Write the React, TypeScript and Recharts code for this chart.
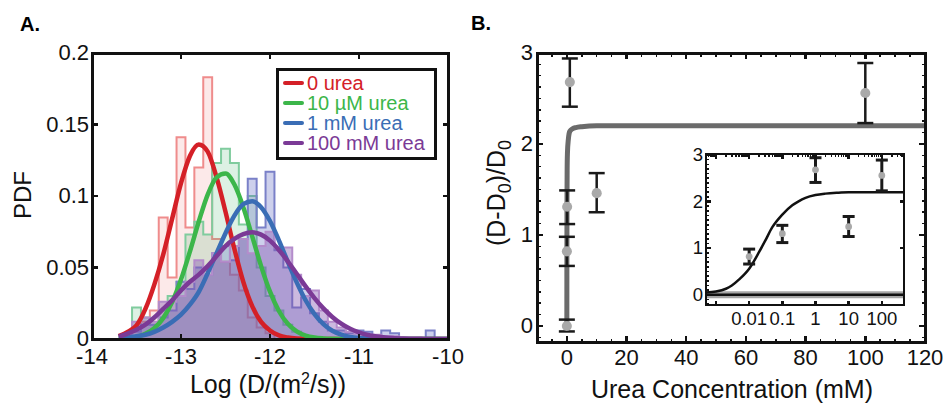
import {
  Area,
  CartesianGrid,
  ComposedChart,
  ErrorBar,
  Legend,
  Line,
  Scatter,
  XAxis,
  YAxis,
  ZAxis,
} from "recharts";

const FONT = '"Liberation Sans", Arial, Helvetica, sans-serif';

// ---------- panel A: log10(D) histograms, bins 0.1 wide ----------
const binStarts = [
  -13.65, -13.55, -13.45, -13.35, -13.25, -13.15, -13.05, -12.95, -12.85, -12.75, -12.65, -12.55,
  -12.45, -12.35, -12.25, -12.15, -12.05, -11.95, -11.85, -11.75, -11.65, -11.55, -11.45, -11.35,
  -11.25, -11.15, -11.05, -10.95, -10.85, -10.75, -10.65, -10.55, -10.45, -10.35, -10.25,
];
const binWidth = 0.1;

const hist0 = [
  0, 0.008, 0.012, 0.02, 0.085, 0.043, 0.141, 0.078, 0.12, 0.183, 0.07, 0.054, 0.045, 0.034, 0.015,
  0.008, 0.004, 0, 0, 0, 0, 0, 0, 0, 0, 0, 0, 0, 0, 0, 0, 0, 0, 0, 0,
];
const hist10uM = [
  0, 0.022, 0.015, 0.01, 0.02, 0.03, 0.04, 0.073, 0.082, 0.073, 0.123, 0.133, 0.123, 0.08, 0.1, 0.05,
  0.03, 0.02, 0.01, 0.005, 0, 0, 0, 0, 0, 0, 0, 0, 0, 0, 0, 0, 0, 0, 0,
];
const hist1mM = [
  0, 0.005, 0.01, 0.01, 0.015, 0.02, 0.04, 0.035, 0.05, 0.045, 0.06, 0.065, 0.055, 0.07, 0.112, 0.078,
  0.117, 0.062, 0.05, 0.022, 0.035, 0.018, 0.012, 0.006, 0.006, 0.004, 0.006, 0.005, 0, 0.006, 0.004,
  0, 0, 0, 0.006,
];
const hist100mM = [
  0.004, 0.012, 0.015, 0.012, 0.026, 0.026, 0.03, 0.04, 0.055, 0.045, 0.06, 0.054, 0.065, 0.07, 0.06,
  0.065, 0.075, 0.064, 0.064, 0.045, 0.03, 0.034, 0.02, 0.012, 0.008, 0.005, 0.004, 0.003, 0.003,
  0.002, 0.002, 0, 0, 0, 0,
];

const fitX = [
  -13.7, -13.6, -13.5, -13.4, -13.3, -13.2, -13.1, -13.0, -12.9, -12.8, -12.7, -12.6, -12.5, -12.4,
  -12.3, -12.2, -12.1, -12.0, -11.9, -11.8, -11.7, -11.6, -11.5, -11.4, -11.3, -11.2, -11.1, -11.0,
  -10.9, -10.8, -10.7, -10.6, -10.5, -10.4, -10.3, -10.2, -10.1, -10.0,
];
const fit0 = [
  0.002, 0.005, 0.0095, 0.021, 0.038, 0.059, 0.084, 0.109, 0.128, 0.136, 0.131, 0.113, 0.089, 0.063,
  0.04, 0.023, 0.012, 0.006, 0.0025, 0.001, 0.0003, 0, 0, 0, 0, 0, 0, 0, 0, 0, 0, 0, 0, 0, 0, 0, 0, 0,
];
const fit10uM = [
  0.0002, 0.0006, 0.0015, 0.0036, 0.0076, 0.0146, 0.0258, 0.0416, 0.0612, 0.0822, 0.101, 0.113,
  0.1157, 0.108, 0.0922, 0.0718, 0.051, 0.0331, 0.0196, 0.0106, 0.0053, 0.0024, 0.001, 0.0004, 0.0001,
  0, 0, 0, 0, 0, 0, 0, 0, 0, 0, 0, 0, 0,
];
const fit1mM = [
  0.0005, 0.001, 0.002, 0.003, 0.005, 0.008, 0.012, 0.017, 0.024, 0.033, 0.046, 0.06, 0.074, 0.0863,
  0.0943, 0.0964, 0.0922, 0.0825, 0.069, 0.054, 0.0396, 0.0271, 0.0174, 0.0104, 0.0058, 0.0031,
  0.0015, 0.0007, 0.0003, 0.0001, 0, 0, 0, 0, 0, 0, 0, 0,
];
const fit100mM = [
  0.0016, 0.0038, 0.0065, 0.01, 0.015, 0.021, 0.027, 0.034, 0.04, 0.045, 0.051, 0.058, 0.065, 0.07,
  0.0733, 0.0746, 0.073, 0.0688, 0.0623, 0.0543, 0.0456, 0.0368, 0.0286, 0.0214, 0.0154, 0.0107,
  0.0071, 0.0046, 0.0028, 0.0017, 0.001, 0.0006, 0.0003, 0.0002, 0.0001, 0, 0, 0,
];

const seriesA = [
  { key: "u0", name: "0 urea", hist: hist0, line: "#d42027", edge: "#ef8c8c", fill: "#e86a6a", op: 0.15 },
  { key: "u10", name: "10 \u00b5M urea", hist: hist10uM, line: "#3cb64a", edge: "#80cc9e", fill: "#55bb7a", op: 0.2 },
  { key: "m1", name: "1 mM urea", hist: hist1mM, line: "#3a6db5", edge: "#7a80c8", fill: "#5a64c0", op: 0.3 },
  { key: "m100", name: "100 mM urea", hist: hist100mM, line: "#7b3a96", edge: "#b48ccb", fill: "#8050b0", op: 0.4 },
];

const ticksAX = [-14, -13, -12, -11, -10];
const ticksAY = [0, 0.05, 0.1, 0.15, 0.2];

// ---------- panel B: (D-D0)/D0 vs urea ----------
const conc = [0, 0.01, 0.1, 1, 10, 100];
const ratio = [0, 0.82, 1.31, 2.68, 1.46, 2.56];
const errLo = [0.06, 0.16, 0.19, 0.27, 0.21, 0.33];
const errHi = [0.07, 0.16, 0.18, 0.26, 0.22, 0.33];

const fitConc = [0, 0.002, 0.005, 0.01, 0.02, 0.05, 0.1, 0.2, 0.5, 1, 2, 3, 5, 10, 20, 50, 120];
const fitRatio = [0, 0.1, 0.25, 0.55, 0.85, 1.4, 1.72, 1.9, 2.05, 2.14, 2.17, 2.18, 2.19, 2.2, 2.2, 2.2, 2.2];

const insetFitConc = [0.0005, 0.001, 0.002, 0.003, 0.005, 0.01, 0.02, 0.03, 0.05, 0.1, 0.2, 0.3, 0.5, 1, 2, 5, 10, 100, 500];
const insetFitRatio = [0.05, 0.07, 0.13, 0.2, 0.33, 0.56, 0.92, 1.15, 1.45, 1.72, 1.92, 2.0, 2.08, 2.14, 2.17, 2.19, 2.2, 2.2, 2.2];
const insetBaseConc = [0.0005, 500];
const insetBaseRatio = [0, 0];

const ticksBX = [0, 20, 40, 60, 80, 100, 120];
const ticksBY = [0, 1, 2, 3];
const insetTicksX = [0.001, 0.01, 0.1, 1, 10, 100];
const insetTicksY = [0, 1, 2, 3];

const steps = (a: number, b: number, s: number) => {
  const out: number[] = [];
  for (let v = a; v <= b + 1e-9; v += s) out.push(Math.round(v * 1000) / 1000);
  return out;
};
const minorBX = steps(-5, 115, 5).filter((v) => v % 20 !== 0);
const minorBY = steps(-0.125, 2.875, 0.125).filter((v) => !Number.isInteger(v));
const minorInY = steps(-0.2, 2.9, 0.1).filter((v) => !Number.isInteger(v));
const minorInX = [-4, -3, -2, -1, 0, 1, 2]
  .flatMap((d) => [2, 3, 4, 5, 6, 7, 8, 9].map((k) => +(k * Math.pow(10, d)).toPrecision(3)))
  .filter((v) => v > 0.0005 && v < 500);

// plot boxes (page pixels) fixed by the chart margins below
const boxA = { l: 92, t: 53, r: 448, b: 339, dx: [-14, -10], dy: [0, 0.2], log: false };
const boxB = { l: 537, t: 53, r: 925, b: 342, dx: [-10, 120], dy: [-0.176, 3], log: false };
const boxIn = { l: 706, t: 154, r: 905, b: 306, dx: [0.0005, 500], dy: [-0.24, 3.02], log: true };

const labelTick = (side: "bottom" | "left", font: number, gap: number, fmt: (v: number) => string) => (props: any) => {
  const { x, y, payload } = props;
  const txt = fmt(payload.value as number);
  if (!txt) return <g />;
  const st = { fontFamily: FONT, fontSize: font, fill: "#111" };
  return side === "bottom" ? (
    <text x={x} y={y + gap} textAnchor="middle" style={st}>{txt}</text>
  ) : (
    <text x={x - gap} y={y + font * 0.34} textAnchor="end" style={st}>{txt}</text>
  );
};
const onlyOf = (list: number[], f: (v: number) => string = String) => (v: number) => (list.includes(v) ? f(v) : "");

type Box = typeof boxA;

// inward tick marks on all four sides plus the frame
function FrameMarks({ box, xMaj, xMin, yMaj, yMin, big, small, frameW }: {
  box: Box; xMaj: number[]; xMin: number[]; yMaj: number[]; yMin: number[]; big: number; small: number; frameW: number;
}) {
  const { l, t, r, b, dx, dy, log } = box;
  const tx = (v: number) =>
    log
      ? l + ((Math.log10(v) - Math.log10(dx[0])) / (Math.log10(dx[1]) - Math.log10(dx[0]))) * (r - l)
      : l + ((v - dx[0]) / (dx[1] - dx[0])) * (r - l);
  const ty = (v: number) => b - ((v - dy[0]) / (dy[1] - dy[0])) * (b - t);
  const tick = (key: string, left: number, top: number, w: number, h: number) => (
    <div key={key} style={{ position: "absolute", left, top, width: w, height: h, background: "#111" }} />
  );
  const marks: any[] = [];
  const addX = (vals: number[], len: number, w: number) =>
    vals.forEach((v, i) => {
      const x = tx(v);
      marks.push(tick(`xb${len}-${i}`, x - w / 2, b - len, w, len));
      marks.push(tick(`xt${len}-${i}`, x - w / 2, t, w, len));
    });
  const addY = (vals: number[], len: number, w: number) =>
    vals.forEach((v, i) => {
      const y = ty(v);
      marks.push(tick(`yl${len}-${i}`, l, y - w / 2, len, w));
      marks.push(tick(`yr${len}-${i}`, r - len, y - w / 2, len, w));
    });
  addX(xMaj, big, 2.5);
  addX(xMin, small, 1.5);
  addY(yMaj, big, 2.5);
  addY(yMin, small, 1.5);
  return (
    <>
      {marks}
      <div
        style={{
          position: "absolute",
          left: l - frameW / 2,
          top: t - frameW / 2,
          width: r - l - frameW,
          height: b - t - frameW,
          border: `${frameW}px solid #111`,
          pointerEvents: "none",
        }}
      />
    </>
  );
}

function histRows(h: number[]) {
  const rows = [{ x: binStarts[0], h: 0 }];
  h.forEach((v, i) => rows.push({ x: binStarts[i], h: v }));
  rows.push({ x: binStarts[h.length - 1] + binWidth, h: 0 });
  return rows;
}

function LegendBox() {
  return (
    <div
      style={{
        border: "3px solid #111",
        background: "#fff",
        width: 151,
        height: 84,
        padding: "2px 0 0 4px",
        boxSizing: "content-box",
        fontFamily: FONT,
        fontSize: 20,
        lineHeight: "20px",
      }}
    >
      {seriesA.map((s) => (
        <div key={s.key} style={{ display: "flex", alignItems: "center", height: 20, whiteSpace: "nowrap" }}>
          <span style={{ width: 21, height: 4.5, borderRadius: 2, background: s.line, marginRight: 3 }} />
          <span style={{ color: s.line }}>{s.name}</span>
        </div>
      ))}
    </div>
  );
}

const common = { tickSize: 0, tickMargin: 0, tickLine: false, axisLine: false, interval: 0 as const, allowDataOverflow: true };

function ChartA() {
  const rows = fitX.map((x, i) => ({
    x,
    u0: fit0[i],
    u10: fit10uM[i],
    m1: fit1mM[i],
    m100: fit100mM[i],
  }));
  return (
    <ComposedChart width={470} height={405} data={rows} margin={{ top: 53, right: 22, left: 0, bottom: 0 }}>
      <XAxis
        {...common}
        dataKey="x"
        type="number"
        domain={[-14, -10]}
        ticks={ticksAX}
        height={66}
        tick={labelTick("bottom", 22, 25, String)}
        label={() => (
          <text x={268} y={393} textAnchor="middle" style={{ fontFamily: FONT, fontSize: 25, fill: "#111" }}>
            Log (D/(m<tspan dy={-9} fontSize={16}>2</tspan>
            <tspan dy={9}>/s))</tspan>
          </text>
        )}
      />
      <YAxis
        {...common}
        type="number"
        domain={[0, 0.2]}
        ticks={ticksAY}
        width={92}
        tick={labelTick("left", 22, 3, String)}
        label={() => (
          <text x={31} y={195} transform="rotate(-90, 31, 195)" textAnchor="middle" style={{ fontFamily: FONT, fontSize: 24, fill: "#111" }}>
            PDF
          </text>
        )}
      />
      {seriesA.map((s) => (
        <Area
          key={s.key + "-hist"}
          data={histRows(s.hist)}
          dataKey="h"
          type="stepAfter"
          stroke={s.edge}
          strokeWidth={2}
          fill={s.fill}
          fillOpacity={s.op}
          legendType="none"
          isAnimationActive={false}
        />
      ))}
      {seriesA.map((s) => (
        <Line
          key={s.key}
          dataKey={s.key}
          name={s.name}
          type="monotone"
          stroke={s.line}
          strokeWidth={4.5}
          dot={false}
          isAnimationActive={false}
        />
      ))}
      <Legend
        layout="vertical"
        align="center"
        verticalAlign="middle"
        wrapperStyle={{ left: 276, top: 68, width: 158, height: 90 }}
        content={() => <LegendBox />}
      />
    </ComposedChart>
  );
}

function ChartB() {
  const pts = conc.map((c, i) => ({ c, r: ratio[i], err: [errLo[i], errHi[i]] }));
  const fit = fitConc.map((c, i) => ({ c, r: fitRatio[i] }));
  return (
    <ComposedChart width={473} height={405} margin={{ top: 53, right: 18, left: 0, bottom: 0 }}>
      <XAxis
        {...common}
        dataKey="c"
        type="number"
        domain={[-10, 120]}
        ticks={ticksBX}
        height={63}
        tick={labelTick("bottom", 22, 23, String)}
        label={() => (
          <text x={262} y={398} textAnchor="middle" style={{ fontFamily: FONT, fontSize: 25, fill: "#111" }}>
            Urea Concentration (mM)
          </text>
        )}
      />
      <YAxis
        {...common}
        dataKey="r"
        type="number"
        domain={[-0.176, 3]}
        ticks={ticksBY}
        width={67}
        tick={labelTick("left", 22, 4, String)}
        label={() => (
          <text x={35} y={193} transform="rotate(-90, 35, 193)" textAnchor="middle" style={{ fontFamily: FONT, fontSize: 25, fill: "#111" }}>
            (D-D<tspan dy={6} fontSize={18}>0</tspan>
            <tspan dy={-6}>)/D</tspan>
            <tspan dy={6} fontSize={18}>0</tspan>
          </text>
        )}
      />
      <ZAxis range={[80, 80]} />
      <Line data={fit} dataKey="r" type="monotone" stroke="#6b6b6b" strokeWidth={5} dot={false} isAnimationActive={false} />
      <Scatter data={pts} dataKey="r" fill="#a9a9a9" isAnimationActive={false}>
        <ErrorBar dataKey="err" direction="y" width={8} strokeWidth={2.5} stroke="#1a1a1a" />
      </Scatter>
    </ComposedChart>
  );
}

function Inset() {
  const pts = conc
    .map((c, i) => ({ c, r: ratio[i], err: [errLo[i], errHi[i]] }))
    .filter((p) => p.c > 0);
  const fit = insetFitConc.map((c, i) => ({ c, r: insetFitRatio[i] }));
  const base = insetBaseConc.map((c, i) => ({ c, r: insetBaseRatio[i] }));
  return (
    <ComposedChart width={250} height={200} margin={{ top: 14, right: 15, left: 0, bottom: 0 }}>
      <CartesianGrid fill="#fff" horizontal={false} vertical={false} />
      <XAxis
        {...common}
        dataKey="c"
        type="number"
        scale="log"
        domain={[0.0005, 500]}
        ticks={insetTicksX}
        height={34}
        tick={labelTick("bottom", 18.5, 19, onlyOf([0.01, 0.1, 1, 10, 100]))}
      />
      <YAxis
        {...common}
        dataKey="r"
        type="number"
        domain={[-0.24, 3.02]}
        ticks={insetTicksY}
        width={36}
        tick={labelTick("left", 18.5, 3, String)}
      />
      <ZAxis range={[36, 36]} />
      <Line data={base} dataKey="r" stroke="#a6a6a6" strokeWidth={7} dot={false} isAnimationActive={false} />
      <Line data={base} dataKey="r" stroke="#111" strokeWidth={2.5} dot={false} isAnimationActive={false} />
      <Line data={fit} dataKey="r" type="monotone" stroke="#111" strokeWidth={2.5} dot={false} isAnimationActive={false} />
      <Scatter data={pts} dataKey="r" fill="#a9a9a9" isAnimationActive={false}>
        <ErrorBar dataKey="err" direction="y" width={6} strokeWidth={3} stroke="#1a1a1a" />
      </Scatter>
    </ComposedChart>
  );
}

export default function App() {
  const panelTitle = { position: "absolute" as const, fontFamily: FONT, fontWeight: 700, fontSize: 20, lineHeight: "20px" };
  return (
    <div style={{ position: "relative", width: 943, height: 405, background: "#fff" }}>
      <style>{"body{margin:0}"}</style>
      <div style={{ position: "absolute", left: 0, top: 0 }}>
        <ChartA />
      </div>
      <FrameMarks box={boxA} xMaj={ticksAX} xMin={[]} yMaj={ticksAY} yMin={[]} big={5.5} small={0} frameW={3} />
      <div style={{ position: "absolute", left: 470, top: 0 }}>
        <ChartB />
      </div>
      <FrameMarks box={boxB} xMaj={ticksBX} xMin={minorBX} yMaj={ticksBY} yMin={minorBY} big={6} small={3.5} frameW={3} />
      <div style={{ position: "absolute", left: 670, top: 140 }}>
        <Inset />
      </div>
      <FrameMarks box={boxIn} xMaj={insetTicksX} xMin={minorInX} yMaj={insetTicksY} yMin={minorInY} big={5} small={2.5} frameW={2.5} />
      <div style={{ ...panelTitle, left: 20, top: 14 }}>A.</div>
      <div style={{ ...panelTitle, left: 471, top: 13 }}>B.</div>
    </div>
  );
}
